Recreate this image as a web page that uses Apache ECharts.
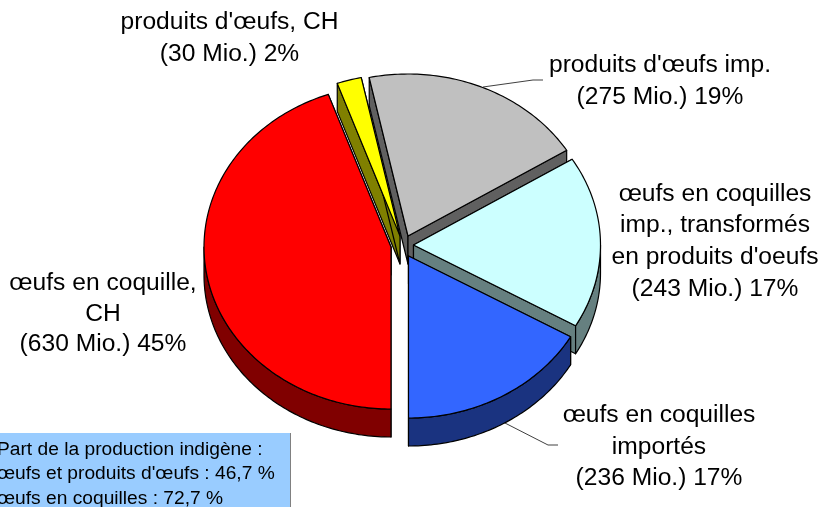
<!DOCTYPE html>
<html><head><meta charset="utf-8">
<style>html,body{margin:0;padding:0;background:#fff;overflow:hidden}#c{width:825px;height:507px}</style>
<script src="https://cdn.jsdelivr.net/npm/echarts@6/dist/echarts.min.js"></script>
</head><body><div id="c"></div>
<script>
// Data
const sliceNames = ["œufs en coquille, CH","produits d'œufs, CH","produits d'œufs imp.","œufs en coquilles imp., transformés en produits d'oeufs","œufs en coquilles importés"];
const sliceValues = [630, 30, 275, 243, 236];
const slicePercents = [45, 2, 19, 17, 17];
const noteLines = ["Part de la production indigène :","œufs et produits d'œufs : 46,7 %","œufs en coquilles : 72,7 %"];

// Drawing configuration
const topColors  = ['#ff0000','#ffff00','#c0c0c0','#ccffff','#3366ff'];
const wallColors = ['#800000','#808000','#606060','#668080','#1a3380'];
const apex = [[391,247],[400,236],[408,236],[413.5,245],[408.5,256]];
const RX = 187, RY = 162, DEPTH = 28, START = 180;
const drawOrder = [2,1,0,3,4];
const total = sliceValues.reduce((a,b)=>a+b,0);
const cum = [0]; sliceValues.forEach(v=>cum.push(cum[cum.length-1]+v));
const rad = d => d*Math.PI/180;
const pt = (i,t,dz) => [apex[i][0]+RX*Math.sin(rad(t)), apex[i][1]-RY*Math.cos(rad(t))+(dz||0)];
const stroke = {stroke:'#000',lineWidth:1.2,lineJoin:'round'};

function renderSlice(params, api){
  const i = api.value(0);
  const t0 = START+cum[i]/total*360, t1 = START+cum[i+1]/total*360;
  const kids = [];
  const poly = (pts,fill)=>kids.push({type:'polygon',shape:{points:pts},style:Object.assign({fill},stroke)});
  const arc = (a,b,dz)=>{const r=[];const n=Math.max(2,Math.ceil(Math.abs(b-a)));for(let k=0;k<=n;k++)r.push(pt(i,a+(b-a)*k/n,dz));return r;};
  // radial walls
  [t0,t1].forEach(t=>poly([[apex[i][0],apex[i][1]],pt(i,t),pt(i,t,DEPTH),[apex[i][0],apex[i][1]+DEPTH]],wallColors[i]));
  // outer wall on the front half of the ellipse
  [[90,270],[450,630]].forEach(([lo,hi])=>{
    const a=Math.max(t0,lo), b=Math.min(t1,hi);
    if(b>a) poly(arc(a,b,0).concat(arc(b,a,DEPTH)),wallColors[i]);
  });
  // top face
  poly([[apex[i][0],apex[i][1]]].concat(arc(t0,t1,0)),topColors[i]);
  return {type:'group',children:kids};
}

const font = '"Liberation Sans", Arial, sans-serif';
const label = (x,y,lines,lh) => ({type:'text',x,y,silent:true,style:{text:lines.join('\n'),font:'24.6px '+font,fill:'#000',align:'center',verticalAlign:'middle',lineHeight:lh}});
const mio = i => '('+sliceValues[i]+' Mio.) '+slicePercents[i]+'%';

const chart = echarts.init(document.getElementById('c'),null,{renderer:'canvas'});
chart.setOption({
  animation:false,
  backgroundColor:'#fff',
  series:[{type:'custom',coordinateSystem:'none',silent:true,data:drawOrder.map(i=>[i]),renderItem:renderSlice,z:2}],
  graphic:[
    {type:'polyline',z:1,silent:true,shape:{points:[[483,87],[533,80],[543,80]]},style:{stroke:'#404040',lineWidth:1,fill:null}},
    {type:'polyline',z:1,silent:true,shape:{points:[[503,422],[548,445],[558,445]]},style:{stroke:'#404040',lineWidth:1,fill:null}},
    {type:'rect',z:3,silent:true,shape:{x:-2,y:433,width:292,height:80},style:{fill:'#99ccff'}},
    {type:'line',z:3,silent:true,shape:{x1:290.5,y1:433,x2:290.5,y2:507},style:{stroke:'#808080',lineWidth:1}},
    {type:'text',z:4,x:-3,y:437,silent:true,style:{text:noteLines.join('\n'),font:'19.2px '+font,fill:'#000',lineHeight:24.5,verticalAlign:'top'}},
    label(229.5,38,["produits d'œufs, CH",mio(1)],32),
    label(660,81,["produits d'œufs imp.",mio(2)],32.5),
    label(715,241.5,["œufs en coquilles","imp., transformés","en produits d'oeufs",mio(3)],31.8),
    label(103,314,["œufs en coquille,","CH",mio(0)],30.5),
    label(659,447,["œufs en coquilles","importés",mio(4)],31.5)
  ]
});
</script></body></html>
